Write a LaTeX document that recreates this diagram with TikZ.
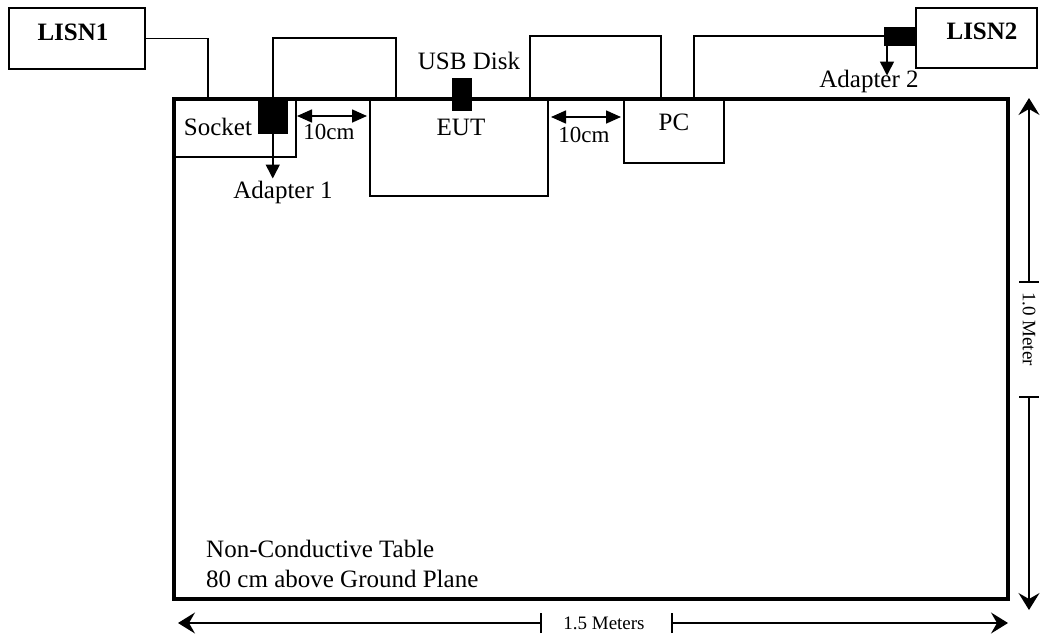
\documentclass[tikz,border=0pt]{standalone}
\usepackage{fontspec}
\setmainfont{Liberation Serif}
\usetikzlibrary{arrows.meta}
\begin{document}
\begin{tikzpicture}[x=1pt,y=-1pt,
  box/.style={draw,line width=1.6pt,inner sep=0pt,anchor=north west},
  blk/.style={fill=black,draw=black,line width=0.5pt,inner sep=0pt,anchor=north west},
  lbl/.style={inner sep=0pt,anchor=base,font=\fontsize{25}{30}\selectfont},
  blbl/.style={lbl,font=\fontsize{25}{30}\selectfont\bfseries},
  dlbl/.style={inner sep=0pt,font=\fontsize{19}{22}\selectfont},
  wire/.style={line width=1.6pt},
  arr/.style={line width=1.6pt,-{Triangle[length=14pt,width=14pt]}},
  darr/.style={line width=1.6pt,{Triangle[length=15pt,width=13pt]}-{Triangle[length=15pt,width=13pt]}},
  dim/.style={line width=1.3pt,-{Stealth[length=17pt,width=21pt,inset=6pt]}},
  tick/.style={line width=1.6pt}]
\useasboundingbox (0,0) rectangle (1041,638);
% table
\node[box,line width=3.5pt,minimum width=834pt,minimum height=500pt] (table) at (172,97) {};
% boxes
\node[box,minimum width=136pt,minimum height=61pt] (lisn1) at (8,7) {};
\node[box,minimum width=121pt,minimum height=60pt] (lisn2) at (915,7) {};
\node[box,minimum width=122pt,minimum height=58pt] (socket) at (173,98) {};
\node[box,minimum width=178pt,minimum height=97pt] (eut) at (369,98) {};
\node[box,minimum width=100pt,minimum height=64pt] (pc) at (623,98) {};
% black blocks
\node[blk,minimum width=29pt,minimum height=35pt] (blk1) at (258,98) {};
\node[blk,minimum width=19pt,minimum height=32pt] (usb) at (452,78) {};
\node[blk,minimum width=31pt,minimum height=18pt] (blk2) at (884,27) {};
% texts
\node[blbl] (tl1) at (73,40) {LISN1};
\node[blbl] (tl2) at (982,39) {LISN2};
\node[lbl] (tsock) at (218,135) {Socket};
\node[lbl] (teut) at (461,135) {EUT};
\node[lbl] (tpc) at (674,130) {PC};
\node[lbl] (tusb) at (469,69) {USB Disk};
\node[lbl] (tad1) at (283,198) {Adapter 1};
\node[lbl] (tad2) at (869,87) {Adapter 2};
\node[lbl,font=\fontsize{23}{28}\selectfont] (t10a) at (329,139) {10cm};
\node[lbl,font=\fontsize{23}{28}\selectfont] (t10b) at (584,142) {10cm};
\node[lbl,anchor=base west,align=left] (tnc) at (206,557) {Non-Conductive Table};
\node[lbl,anchor=base west] (tnc2) at (206,587) {80 cm above Ground Plane};
% wires
\coordinate (w1) at (208,97);
\draw[wire] (lisn1.east) -| (w1);
\coordinate (w2) at (396,100);
\draw[wire] (blk1.north) -- ++(0,-60) -| (w2);
\coordinate (e1) at (530,97);
\coordinate (e2) at (661,97);
\draw[wire] (e1) -- ++(0,-61) -| (e2);
\coordinate (p1) at (694,97);
\draw[wire] (p1) |- (blk2.west);
% adapter arrows
\draw[arr] (blk1.south) -- ++(0,45);
\draw[arr] ([xshift=3pt]blk2.south west) -- ++(0,30);
% 10cm arrows
\coordinate (ta1) at (297,116);
\coordinate (ta2) at (367,116);
\draw[darr] (ta1) -- (ta2);
\coordinate (tb1) at (551,117);
\coordinate (tb2) at (621,117);
\draw[darr] (tb1) -- (tb2);
% vertical dimension
\coordinate (v1) at (1029,98);
\coordinate (v2) at (1029,610);
\coordinate (vt1) at (1029,282);
\coordinate (vt2) at (1029,397);
\draw[dim] (vt1) -- (v1);
\draw[dim] (vt2) -- (v2);
\draw[tick] ([xshift=-10pt]vt1) -- ([xshift=10pt]vt1);
\draw[tick] ([xshift=-10pt]vt2) -- ([xshift=10pt]vt2);
\node[dlbl,rotate=-90] (tv) at (1029,329) {1.0 Meter};
% horizontal dimension
\coordinate (h1) at (178,623);
\coordinate (h2) at (1008,623);
\coordinate (ht1) at (541,623);
\coordinate (ht2) at (672,623);
\draw[dim] (ht1) -- (h1);
\draw[dim] (ht2) -- (h2);
\draw[tick] ([yshift=-10pt]ht1) -- ([yshift=10pt]ht1);
\draw[tick] ([yshift=-10pt]ht2) -- ([yshift=10pt]ht2);
\node[dlbl] (th) at (604,623) {1.5 Meters};
\end{tikzpicture}
\end{document}
